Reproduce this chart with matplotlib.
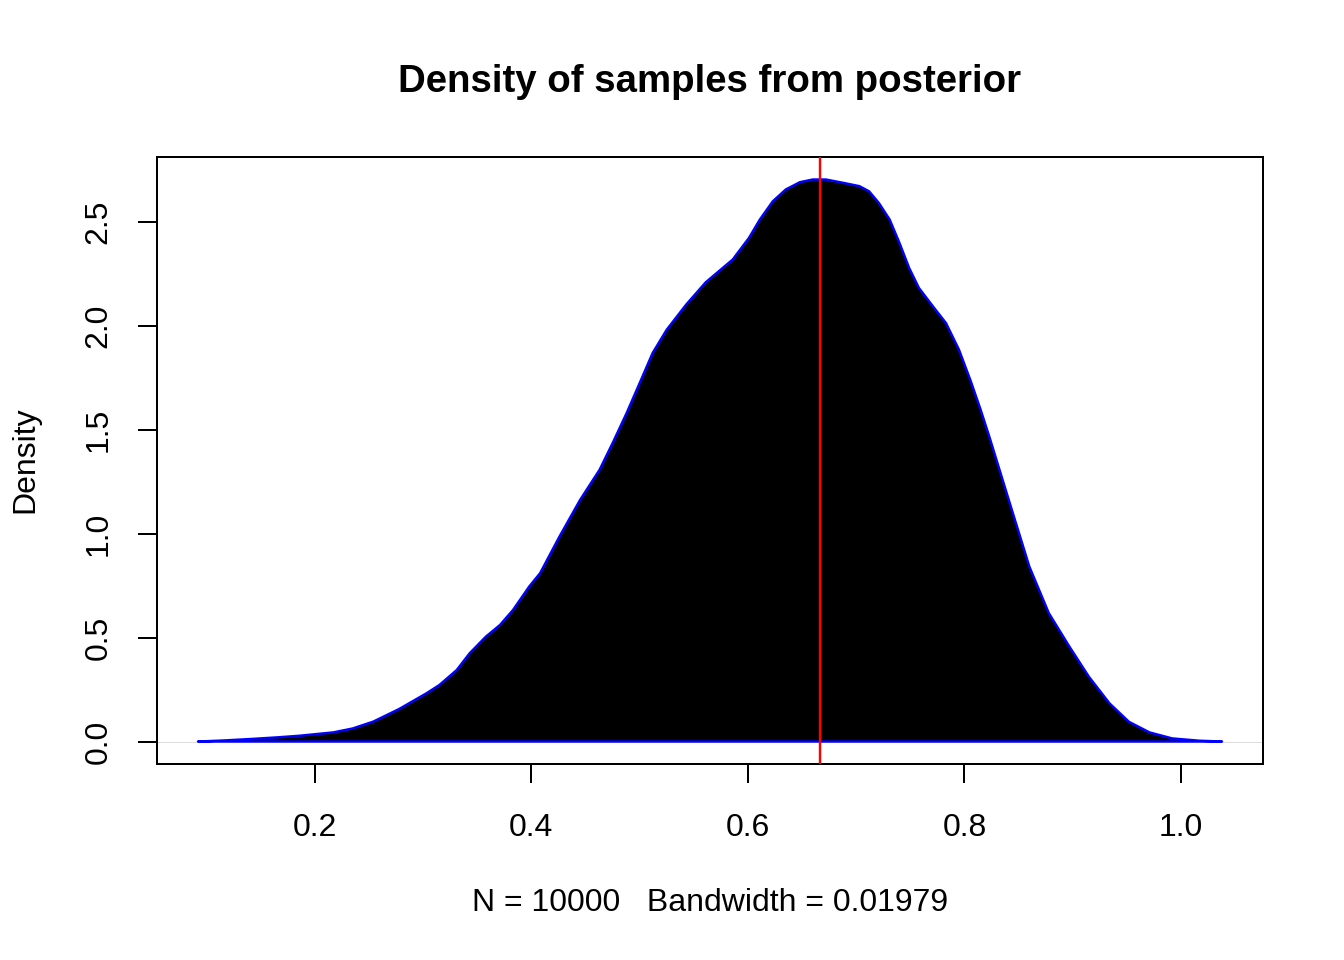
import matplotlib
matplotlib.use("Agg")
import matplotlib.pyplot as plt

plt.rcParams['font.family'] = ['Liberation Sans', 'DejaVu Sans']

# Density estimate
x_vals = [0.092, 0.115, 0.140, 0.165, 0.186, 0.217, 0.235, 0.254, 0.278, 0.303,
          0.315, 0.331, 0.343, 0.358, 0.371, 0.383, 0.398, 0.408, 0.426, 0.445,
          0.463, 0.475, 0.488, 0.500, 0.512, 0.525, 0.543, 0.561, 0.586, 0.601,
          0.611, 0.623, 0.635, 0.648, 0.660, 0.672, 0.688, 0.703, 0.712, 0.721,
          0.731, 0.740, 0.749, 0.758, 0.771, 0.783, 0.795, 0.806, 0.815, 0.823,
          0.841, 0.860, 0.878, 0.897, 0.915, 0.934, 0.952, 0.971, 0.992, 1.017,
          1.038]
dens_vals = [0.0, 0.005, 0.012, 0.020, 0.028, 0.044, 0.063, 0.096, 0.157, 0.232,
             0.272, 0.344, 0.425, 0.505, 0.561, 0.633, 0.746, 0.810, 0.987, 1.163,
             1.308, 1.436, 1.581, 1.725, 1.870, 1.982, 2.103, 2.210, 2.320, 2.424,
             2.512, 2.600, 2.657, 2.692, 2.705, 2.705, 2.689, 2.673, 2.648, 2.592,
             2.512, 2.400, 2.279, 2.183, 2.094, 2.014, 1.886, 1.733, 1.597, 1.468,
             1.163, 0.842, 0.618, 0.457, 0.312, 0.184, 0.095, 0.044, 0.015, 0.004,
             0.0]
marker_x = 0.667
x_ticks = [0.2, 0.4, 0.6, 0.8, 1.0]
x_tick_labels = ["0.2", "0.4", "0.6", "0.8", "1.0"]
y_ticks = [0.0, 0.5, 1.0, 1.5, 2.0, 2.5]
y_tick_labels = ["0.0", "0.5", "1.0", "1.5", "2.0", "2.5"]
title = "Density of samples from posterior"
xlabel = "N = 10000   Bandwidth = 0.01979"
ylabel = "Density"

fig = plt.figure(figsize=(7, 5), dpi=192)
ax = fig.add_axes([157/1344, 196/960, (1263-157)/1344, (764-157)/960])

xmin, xmax = min(x_vals), max(x_vals)
ymax = max(dens_vals)
xr = xmax - xmin
ax.set_xlim(xmin - 0.04*xr, xmax + 0.04*xr)
ax.set_ylim(-0.04*ymax, ymax*1.04)

ax.axhline(0, color='#BEBEBE', lw=0.2, zorder=1)
ax.fill(x_vals, dens_vals, facecolor='black', edgecolor='blue', lw=0.9,
        joinstyle='round', zorder=2)
ax.axvline(marker_x, color='red', lw=0.9, zorder=3)

ax.set_xticks(x_ticks)
ax.set_xticklabels(x_tick_labels)
ax.set_yticks(y_ticks)
ax.set_yticklabels(y_tick_labels, rotation=90, va='center')
ax.tick_params(axis='both', direction='out', length=7.2, width=0.75, labelsize=12, colors='black')
ax.tick_params(axis='x', pad=11)
ax.tick_params(axis='y', pad=9)
for s in ax.spines.values():
    s.set_linewidth(0.75)

fig.text(0.5 * (157 + 1263) / 1344, 1 - 82/960, title, ha='center', va='center',
         fontsize=14.4, fontweight='bold')
fig.text(0.5 * (157 + 1263) / 1344, 1 - 903/960, xlabel, ha='center', va='center', fontsize=12)
fig.text(25/1344, 1 - 460/960, ylabel, ha='center', va='center', fontsize=12, rotation=90)

fig.savefig("out.png", dpi=192)
